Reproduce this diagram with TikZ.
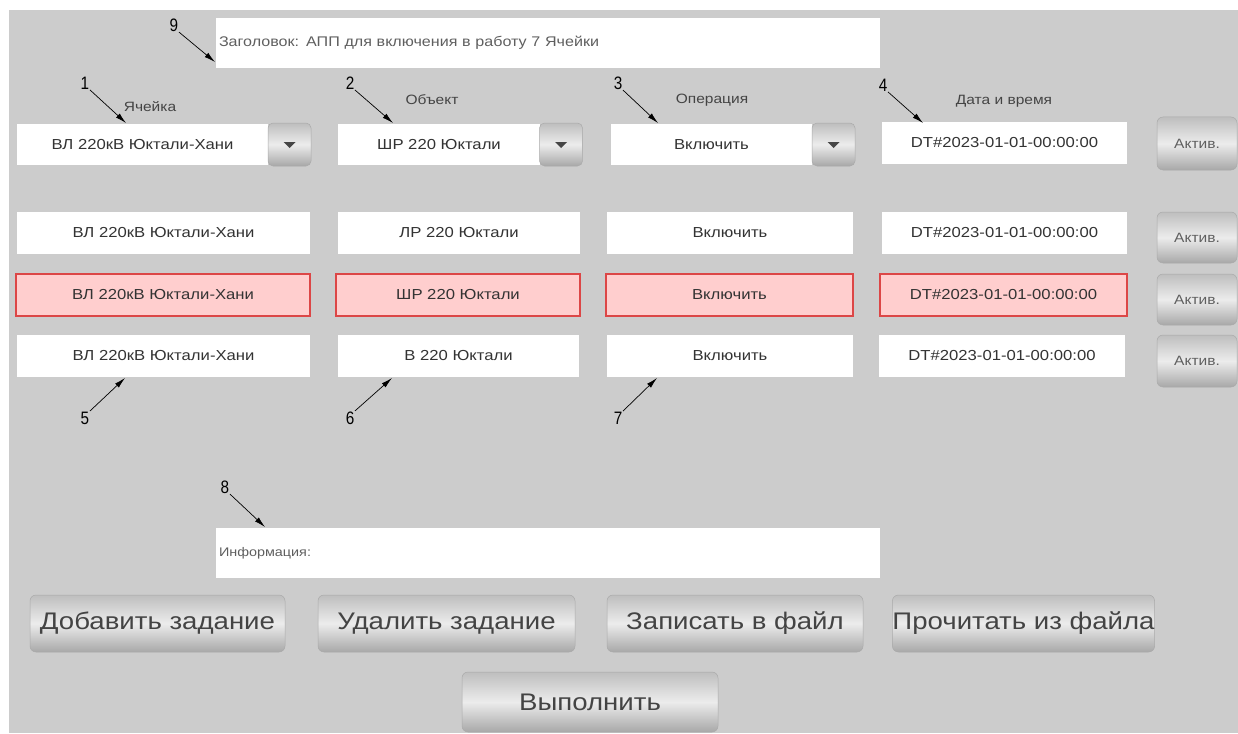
\documentclass[tikz,border=0pt]{standalone}
\usepackage{fontspec}
\setmainfont{Liberation Sans}[FakeStretch=1.15]
\newfontfamily\numfont{Liberation Sans}[FakeStretch=0.85]
\usetikzlibrary{arrows.meta}

\definecolor{panel}{RGB}{204,204,204}
\definecolor{txt}{RGB}{51,51,51}
\definecolor{hdr}{RGB}{68,68,68}
\definecolor{dim}{RGB}{95,95,95}
\definecolor{pinkfill}{RGB}{255,206,206}
\definecolor{pinkline}{RGB}{220,70,70}
\definecolor{btntop}{RGB}{190,190,190}
\definecolor{btnmid}{RGB}{236,236,236}
\definecolor{btnbot}{RGB}{168,168,168}
\definecolor{btnedge}{RGB}{170,170,170}
\definecolor{tri}{RGB}{70,70,70}

\tikzset{
  field/.style={fill=white, inner sep=0pt, text=txt,
    font=\fontsize{14.5}{16}\selectfont},
  alarm/.style={field, fill=pinkfill, draw=pinkline, line width=1.2pt},
  wide/.style={fill=white, inner xsep=3pt, inner ysep=0pt, align=left,
    text width=658pt, minimum height=50pt, text=dim,
    font=\fontsize{12.5}{14}\selectfont},
  header/.style={text=hdr, inner sep=0pt, font=\fontsize{13.5}{15}\selectfont},
  btn/.style={rounded corners=6pt, top color=btntop, bottom color=btnbot,
    middle color=btnmid, draw=btnedge, line width=0.5pt, inner sep=0pt},
  dropbtn/.style={btn, rounded corners=5pt, minimum width=43pt, minimum height=43pt},
  actbtn/.style={btn, minimum width=80pt, text=dim,
    font=\fontsize{13.5}{15}\selectfont},
  bigbtn/.style={btn, minimum width=256pt, minimum height=57pt, text=hdr,
    font=\fontsize{24}{28}\selectfont},
  callout/.style={inner sep=0.5pt, font=\numfont\fontsize{18}{20}\selectfont},
  pointer/.style={line width=0.7pt, -{Latex[length=11pt,width=5.5pt]}},
}

\newcommand{\droptri}[1]{%
  \fill[tri] ([xshift=-6pt,yshift=2.5pt]#1.center) -- ([xshift=6pt,yshift=2.5pt]#1.center)
    -- ([yshift=-3.5pt]#1.center) -- cycle;}

\begin{document}
\begin{tikzpicture}[x=1pt, y=-1pt]
  \useasboundingbox (0,0) rectangle (1238,733);
  \fill[white] (0,0) rectangle (1238,733);
  \fill[panel] (9,10) rectangle (1238,733);

  % title line
  \node[wide, font=\fontsize{14}{16}\selectfont] (title) at (548,43)
    {Заголовок: АПП для включения в работу 7 Ячейки};

  % column headers
  \node[header] (hcell) at (150,107) {Ячейка};
  \node[header] (hobj)  at (432,100) {Объект};
  \node[header] (hop)   at (712,100) {Операция};
  \node[header] (hdt)   at (1004,101) {Дата и время};

  % input row with drop-down lists
  \node[field, minimum width=251pt, minimum height=41pt] (in1) at (142.5,144.5) {ВЛ 220кВ Юктали-Хани};
  \node[dropbtn] (dd1) at (289.5,144.5) {};
  \node[field, minimum width=202pt, minimum height=41pt] (in2) at (439,144.5) {ШР 220 Юктали};
  \node[dropbtn] (dd2) at (561,144.5) {};
  \node[field, minimum width=201pt, minimum height=41pt] (in3) at (711.5,144.5) {Включить};
  \node[dropbtn] (dd3) at (833.5,144.5) {};
  \node[field, minimum width=245pt, minimum height=42pt] (in4) at (1004.5,143) {DT\#2023-01-01-00:00:00};
  \node[actbtn, minimum height=53pt] (act0) at (1197,143.5) {Актив.};
  \droptri{dd1}
  \droptri{dd2}
  \droptri{dd3}

  % task list
  \node[field, minimum width=293pt, minimum height=42pt] (r1c1) at (163.5,233) {ВЛ 220кВ Юктали-Хани};
  \node[field, minimum width=242pt, minimum height=42pt] (r1c2) at (459,233) {ЛР 220 Юктали};
  \node[field, minimum width=246pt, minimum height=42pt] (r1c3) at (730,233) {Включить};
  \node[field, minimum width=245pt, minimum height=42pt] (r1c4) at (1004.5,233) {DT\#2023-01-01-00:00:00};
  \node[actbtn, minimum height=51pt] (act1) at (1197,237.5) {Актив.};

  \node[alarm, minimum width=294pt, minimum height=42pt] (r2c1) at (163,295) {ВЛ 220кВ Юктали-Хани};
  \node[alarm, minimum width=244pt, minimum height=42pt] (r2c2) at (458,295) {ШР 220 Юктали};
  \node[alarm, minimum width=247pt, minimum height=42pt] (r2c3) at (729.5,295) {Включить};
  \node[alarm, minimum width=247pt, minimum height=42pt] (r2c4) at (1003.5,295) {DT\#2023-01-01-00:00:00};
  \node[actbtn, minimum height=51pt] (act2) at (1197,299.5) {Актив.};

  \node[field, minimum width=293pt, minimum height=42pt] (r3c1) at (163.5,356) {ВЛ 220кВ Юктали-Хани};
  \node[field, minimum width=241pt, minimum height=42pt] (r3c2) at (458.5,356) {В 220 Юктали};
  \node[field, minimum width=246pt, minimum height=42pt] (r3c3) at (730,356) {Включить};
  \node[field, minimum width=246pt, minimum height=42pt] (r3c4) at (1002,356) {DT\#2023-01-01-00:00:00};
  \node[actbtn, minimum height=52pt] (act3) at (1197,361) {Актив.};

  % message line
  \node[wide] (info) at (548,553) {Информация:};

  % command buttons
  \node[bigbtn, minimum width=255pt] (add)  at (157.5,623.5) {Добавить задание};
  \node[bigbtn, minimum width=257pt] (del)  at (446.5,623.5) {Удалить задание};
  \node[bigbtn] (save) at (735,623.5) {Записать в файл};
  \node[bigbtn, minimum width=253pt] (load) at (1023.5,623.5) {Прочитать из файла};
  \node[bigbtn, minimum width=256pt, minimum height=60pt] (run) at (590,702) {Выполнить};

  % callouts
  \node[callout] (n9) at (174,25) {9};
  \node[callout] (n1) at (85,83) {1};
  \node[callout] (n2) at (350,83) {2};
  \node[callout] (n3) at (618,83) {3};
  \node[callout] (n4) at (883,85) {4};
  \node[callout] (n5) at (85,418) {5};
  \node[callout] (n6) at (350,418) {6};
  \node[callout] (n7) at (618,418) {7};
  \node[callout] (n8) at (225,487) {8};

  \coordinate (t9) at (215,62);
  \coordinate (t1) at (126,123);
  \coordinate (t2) at (393,123);
  \coordinate (t3) at (658,123);
  \coordinate (t4) at (923,123);
  \coordinate (t5) at (125,378);
  \coordinate (t6) at (392,378);
  \coordinate (t7) at (657,378);
  \coordinate (t8) at (265,527);

  \draw[pointer] (n9.south east) -- (t9);
  \draw[pointer] (n1.south east) -- (t1);
  \draw[pointer] (n2.south east) -- (t2);
  \draw[pointer] (n3.south east) -- (t3);
  \draw[pointer] (n4.south east) -- (t4);
  \draw[pointer] (n8.south east) -- (t8);
  \draw[pointer] (n5.north east) -- (t5);
  \draw[pointer] (n6.north east) -- (t6);
  \draw[pointer] (n7.north east) -- (t7);
\end{tikzpicture}
\end{document}
